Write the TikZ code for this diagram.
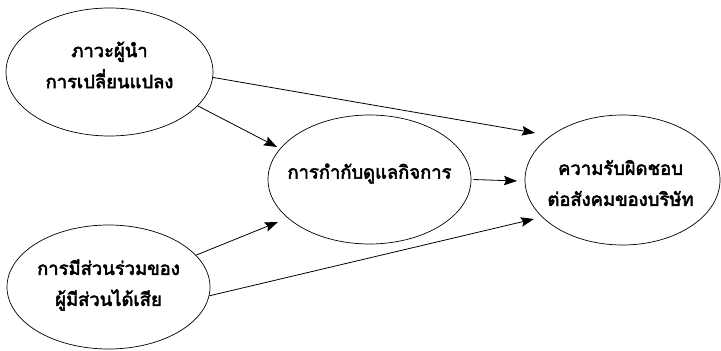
\documentclass[tikz,border=0pt]{standalone}
\usepackage{fontspec}
\newfontfamily\thaifont[Script=Thai,FakeBold=3]{Loma}
\usetikzlibrary{shapes.geometric,arrows.meta}
\begin{document}
\begin{tikzpicture}[x=1pt,y=1pt,
  oval/.style={draw, ellipse, line width=0.7pt, inner sep=0pt},
  lbl/.style={align=center, font=\thaifont\fontsize{18.4}{31}\selectfont},
  link/.style={line width=0.8pt, -{Stealth[length=13pt,width=9.5pt,inset=2pt]}}]
  \useasboundingbox (0,0) rectangle (721,351);
  % ellipses
  \node[oval, minimum width=207pt, minimum height=128pt] (lead) at (109.5,279) {};
  \node[oval, minimum width=203pt, minimum height=129pt] (gov)  at (369.5,171.5) {};
  \node[oval, minimum width=195pt, minimum height=130pt] (csr)  at (622.5,171) {};
  \node[oval, minimum width=203pt, minimum height=124pt] (stake) at (108.5,64) {};
  % labels
  \node[lbl] (leadT) at ([yshift=7pt]lead.center) {ภาวะผู้นำ\\การเปลี่ยนแปลง};
  \node[lbl] (govT) at ([yshift=6pt]gov.center) {การกำกับดูแลกิจการ};
  \node[lbl] (csrT) at ([xshift=-2pt,yshift=-3pt]csr.center) {ความรับผิดชอบ\\ต่อสังคมของบริษัท};
  \node[lbl] (stakeT) at ([yshift=2pt]stake.center) {การมีส่วนร่วมของ\\ผู้มีส่วนได้เสีย};
  % arrow tips
  \coordinate (t1) at (277,204);
  \coordinate (t2) at (535,218);
  \coordinate (t3) at (278,129);
  \coordinate (t4) at (534,132);
  \coordinate (t5) at (517,170);
  % connectors
  \draw[link] (lead.-21) -- (t1);
  \draw[link] (lead.-3.8) -- (t2);
  \draw[link] (stake.20) -- (t3);
  \draw[link] (stake.-5.6) -- (t4);
  \draw[link] ([xshift=2pt]gov.east) -- (t5);
\end{tikzpicture}
\end{document}
